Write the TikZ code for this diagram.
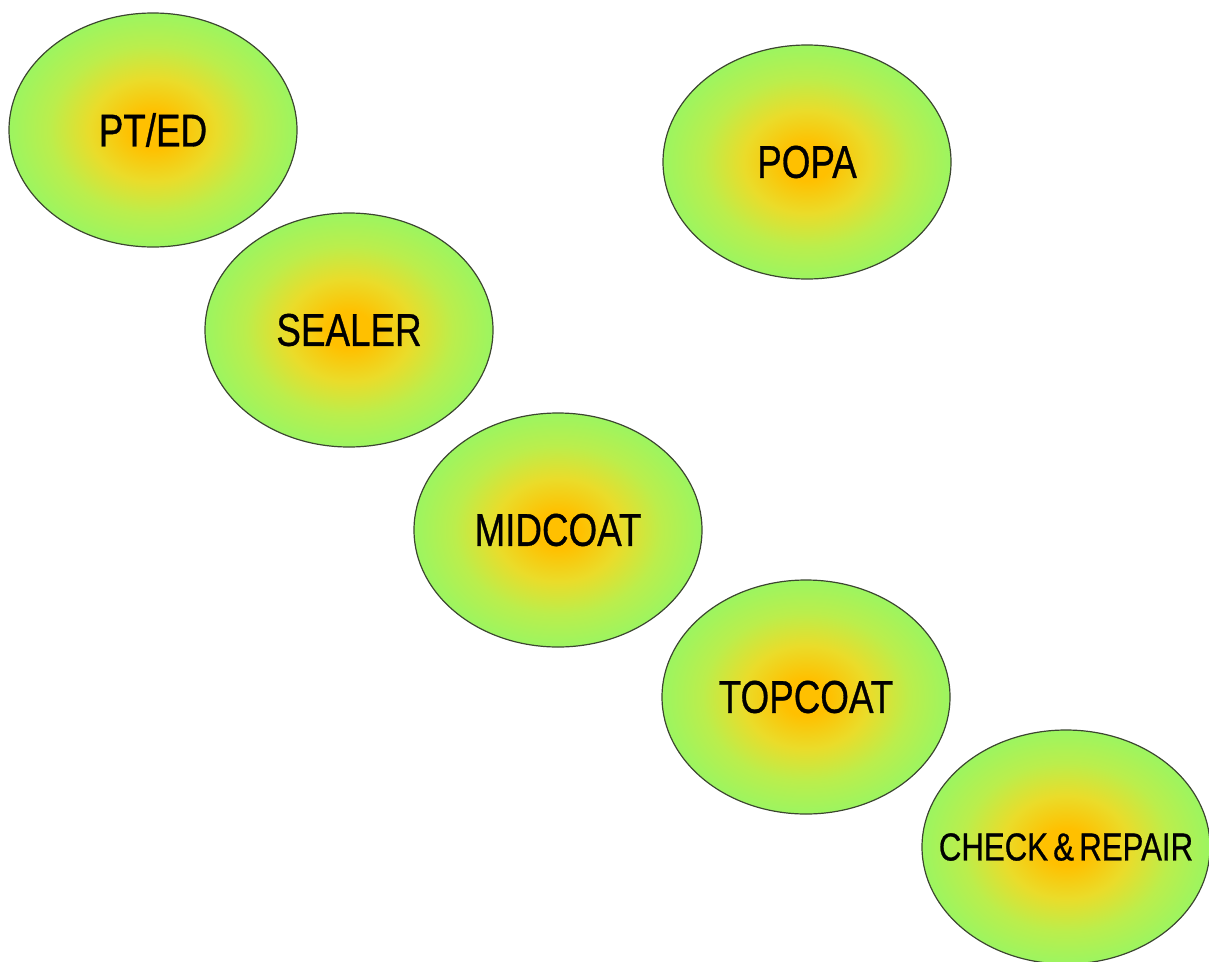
\documentclass[tikz,border=0pt]{standalone}
\usepackage{fontspec}
\usepackage{graphicx}
\setmainfont{Liberation Sans}
\newfontfamily\stagefont[FakeBold=0.8]{Liberation Sans}
\usetikzlibrary{shapes.geometric}

% colours of the stage blobs
\definecolor{blobCore}{HTML}{FFC000}
\definecolor{blobMid}{HTML}{EADC2A}
\definecolor{blobLime}{HTML}{BBEE4C}
\definecolor{blobEdge}{HTML}{9CF560}
\definecolor{blobLine}{HTML}{3C4630}

% orange core fading out to light green towards the rim
\pgfdeclareradialshading{blobshade}{\pgfpoint{0bp}{0bp}}{%
  color(0bp)=(blobCore); color(4bp)=(blobCore); color(11bp)=(blobMid);
  color(18bp)=(blobLime); color(25bp)=(blobEdge); color(50bp)=(blobEdge)}

\tikzset{
  stage/.style={ellipse, shading=blobshade, draw=blobLine, line width=1.2pt,
    minimum width=288pt, minimum height=234pt, inner sep=0pt,
    font=\stagefont\fontsize{46}{50}\selectfont, text=black},
  small/.style={font=\stagefont\fontsize{39}{44}\selectfont}
}
% condensed label that does not widen its ellipse
\newcommand{\narrow}[1]{\makebox[0pt]{\scalebox{0.8}[1]{#1}}}

\begin{document}
\begin{tikzpicture}[x=1pt, y=-1pt]
  \useasboundingbox (0,0) rectangle (1209,961);
  \node[stage] (pted)    at (153,130)  {\narrow{PT/ED}};
  \node[stage] (popa)    at (807,162)  {\narrow{POPA}};
  \node[stage] (sealer)  at (349,330)  {\narrow{SEALER}};
  \node[stage] (midcoat) at (558,530)  {\narrow{MIDCOAT}};
  \node[stage] (topcoat) at (806,697)  {\narrow{TOPCOAT}};
  \node[stage, small] (check) at (1066,847) {\narrow{CHECK\,\&\,REPAIR}};
\end{tikzpicture}
\end{document}
